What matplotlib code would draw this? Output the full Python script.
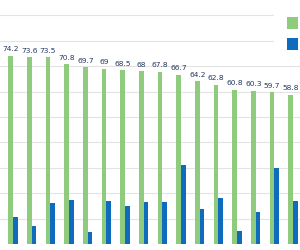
import matplotlib
matplotlib.use("Agg")
import matplotlib.pyplot as plt
from matplotlib.patches import Rectangle
import numpy as np

green_vals = [74.2, 73.6, 73.5, 70.8, 69.7, 69, 68.5, 68, 67.8, 66.7, 64.2, 62.8, 60.8, 60.3, 59.7, 58.8]
blue_vals = [10.7, 7.1, 16.3, 17.4, 4.9, 16.9, 15.1, 16.5, 16.6, 31.1, 13.7, 18.2, 5.1, 12.5, 29.8, 17.0]
green_labels = ["74.2", "73.6", "73.5", "70.8", "69.7", "69", "68.5", "68", "67.8", "66.7",
                "64.2", "62.8", "60.8", "60.3", "59.7", "58.8"]

GREEN = "#8FCB7D"
BLUE = "#0F6BBC"

fig = plt.figure(figsize=(3.0, 2.5), dpi=100)
ax = fig.add_axes([0, 0.024, 1, 0.976])

x = np.arange(len(green_vals))
w = 0.25
ax.bar(x - w / 2, green_vals, width=w, color=GREEN, zorder=3)
ax.bar(x + w / 2, blue_vals, width=w, color=BLUE, zorder=3)

for xi, v, lab in zip(x, green_vals, green_labels):
    ax.annotate(lab, (xi - w / 2, v), xytext=(0, 2.5), textcoords="offset points",
                ha="center", va="bottom", fontsize=5.4, color="#263A63", zorder=4)

ax.set_xlim(-0.696, 15.37)
ax.set_ylim(0, 96.1)
ax.set_yticks(np.arange(0, 100, 10))
ax.yaxis.grid(True, color="#E3E3E3", linewidth=0.8, zorder=0)
ax.tick_params(left=False, bottom=False, labelleft=False, labelbottom=False)
for s in ax.spines.values():
    s.set_visible(False)

# legend box (cropped in the reference)
fig.patches.append(Rectangle((274 / 300, 1 - 60 / 250), 26 / 300, 60 / 250,
                             transform=fig.transFigure, facecolor="white",
                             edgecolor="none", zorder=5))
fig.patches.append(Rectangle((287 / 300, 1 - 29 / 250), 11 / 300, 12 / 250,
                             transform=fig.transFigure, facecolor=GREEN,
                             edgecolor="none", zorder=6))
fig.patches.append(Rectangle((287 / 300, 1 - 50 / 250), 11 / 300, 12 / 250,
                             transform=fig.transFigure, facecolor=BLUE,
                             edgecolor="none", zorder=6))

fig.savefig("out.png", dpi=100)
